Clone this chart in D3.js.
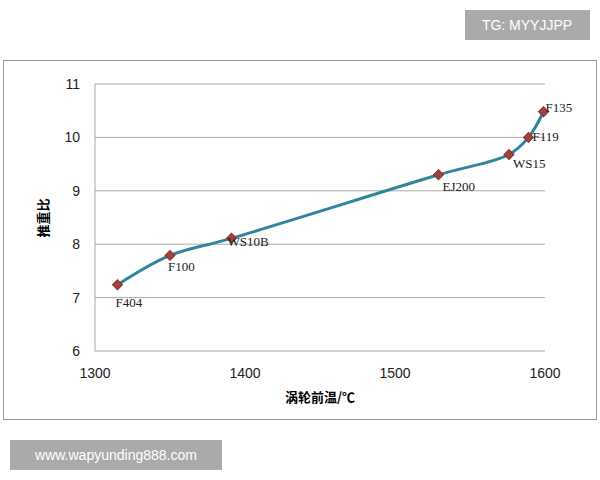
<!DOCTYPE html>
<html><head><meta charset="utf-8">
<script src="https://cdn.jsdelivr.net/npm/d3@7"></script>
<style>body{margin:0;background:#fff;}</style>
</head><body>
<script>
var names = ["F404","F100","WS10B","EJ200","WS15","F119","F135"];
var temps = [1315,1350,1391,1529,1576,1589,1599];
var ratios = [7.24,7.79,8.11,9.3,9.68,10.0,10.48];
var xTicks = [1300,1400,1500,1600];
var yTicks = [6,7,8,9,10,11];
var labelOff = [[-2,22],[-2,16],[-4,8],[4,16],[4,14],[4,4],[2,0]];

var svg = d3.select("body").append("svg").attr("width",600).attr("height",480);
svg.append("rect").attr("x",3.5).attr("y",60.5).attr("width",593).attr("height",359)
  .attr("fill","#fff").attr("stroke","#999");

var x = d3.scaleLinear().domain([1300,1600]).range([95,545]);
var y = d3.scaleLinear().domain([6,11]).range([351,84]);

svg.selectAll(".grid").data(yTicks).enter().append("line")
  .attr("x1",95).attr("x2",545).attr("y1",d=>y(d)).attr("y2",d=>y(d))
  .attr("stroke","#aaa").attr("stroke-width",1);
svg.append("line").attr("x1",95).attr("x2",95).attr("y1",84).attr("y2",351).attr("stroke","#aaa");

svg.selectAll(".yt").data(yTicks).enter().append("text")
  .attr("x",80).attr("y",d=>y(d)+5).attr("text-anchor","end")
  .attr("font-family","Liberation Sans").attr("font-size",14).attr("fill","#222").text(d=>d);
svg.selectAll(".xt").data(xTicks).enter().append("text")
  .attr("x",d=>x(d)).attr("y",378).attr("text-anchor","middle")
  .attr("font-family","Liberation Sans").attr("font-size",14).attr("fill","#222").text(d=>d);

svg.append("text").attr("x",320).attr("y",402).attr("text-anchor","middle")
  .attr("font-family","Noto Sans CJK SC").attr("font-weight","bold").attr("font-size",13).text("涡轮前温/℃");
svg.append("text").attr("transform","translate(48,218) rotate(-90)").attr("text-anchor","middle")
  .attr("font-family","Noto Sans CJK SC").attr("font-weight","bold").attr("font-size",13).text("推重比");

var data = names.map((n,i)=>({n:n,t:temps[i],r:ratios[i]}));
var line = d3.line().x(d=>x(d.t)).y(d=>y(d.r)).curve(d3.curveCatmullRom);
svg.append("path").datum(data).attr("d",line).attr("fill","none")
  .attr("stroke","#31849b").attr("stroke-width",3);

svg.selectAll(".pt").data(data).enter().append("path")
  .attr("d",d3.symbol().type(d3.symbolSquare).size(50))
  .attr("transform",d=>"translate("+x(d.t)+","+y(d.r)+") rotate(45)")
  .attr("fill","#a0413e").attr("stroke","#8a3330");

svg.selectAll(".lb").data(data).enter().append("text")
  .attr("x",(d,i)=>x(d.t)+labelOff[i][0]).attr("y",(d,i)=>y(d.r)+labelOff[i][1])
  .attr("font-family","Liberation Serif").attr("font-size",13).attr("fill","#222").text(d=>d.n);

svg.append("rect").attr("x",465).attr("y",10).attr("width",125).attr("height",30).attr("fill","#aaa");
svg.append("text").attr("x",527).attr("y",30).attr("text-anchor","middle").attr("fill","#fff")
  .attr("font-family","Liberation Sans").attr("font-size",14).text("TG: MYYJJPP");
svg.append("rect").attr("x",10).attr("y",440).attr("width",212).attr("height",30).attr("fill","#aaa");
svg.append("text").attr("x",116).attr("y",460).attr("text-anchor","middle").attr("fill","#fff")
  .attr("font-family","Liberation Sans").attr("font-size",14).text("www.wapyunding888.com");
</script>
</body></html>
